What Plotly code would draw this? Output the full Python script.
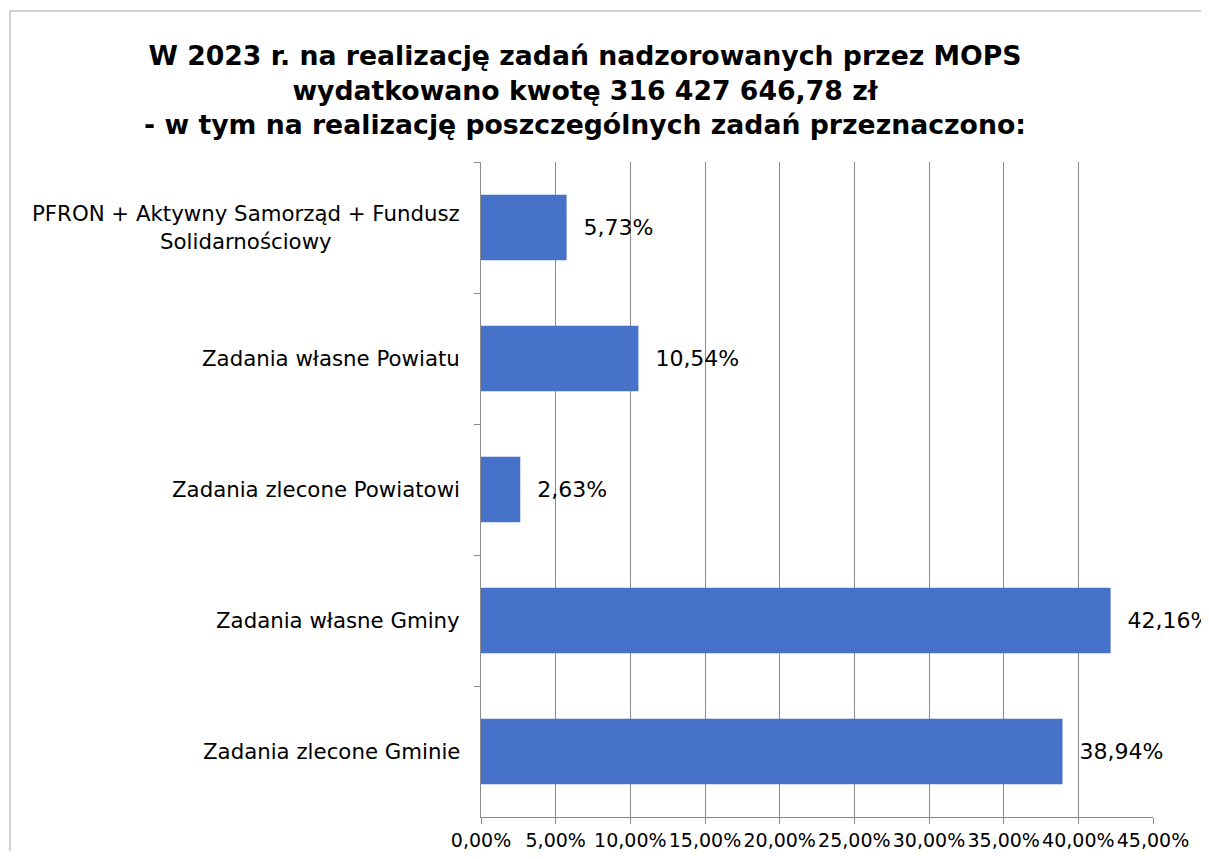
import plotly.graph_objects as go

categories = [
    "PFRON + Aktywny Samorząd + Fundusz<br>Solidarnościowy",
    "Zadania własne Powiatu",
    "Zadania zlecone Powiatowi",
    "Zadania własne Gminy",
    "Zadania zlecone Gminie",
]
values = [5.73, 10.54, 2.63, 42.16, 38.94]
x_ticks = [0, 5, 10, 15, 20, 25, 30, 35, 40, 45]
x_tick_labels = [f"{v:.2f}%".replace(".", ",") for v in x_ticks]
title_lines = [
    "W 2023 r. na realizację zadań nadzorowanych przez MOPS",
    "wydatkowano kwotę 316 427 646,78 zł",
    "- w tym na realizację poszczególnych zadań przeznaczono:",
]

FONT = "DejaVu Sans, Verdana, sans-serif"
# page body has an 8px margin; figure coordinates are shifted accordingly
W, H = 1200, 843
L, R, T, B = 473, 55, 154, 34

fig = go.Figure()
fig.add_trace(go.Bar(
    y=categories, x=values, orientation="h",
    marker=dict(color="#4673C9", line=dict(width=0)),
    texttemplate="\u00a0\u00a0%{x:.2f}%", textposition="outside",
    textfont=dict(family=FONT, size=22, color="#000000"),
    cliponaxis=False, width=0.5,
))

# category labels as centered multi-line annotations
for c in categories:
    fig.add_annotation(
        x=0, xref="paper", y=c, yref="y", xanchor="right", yanchor="middle",
        xshift=-19, text=c, showarrow=False, align="center",
        font=dict(family=FONT, size=21.3, color="#000000"),
    )

fig.update_layout(
    width=W, height=H,
    margin=dict(l=L, r=R, t=T, b=B, pad=0, autoexpand=False),
    paper_bgcolor="white", plot_bgcolor="white",
    separators=", ",
    showlegend=False,
    title=dict(
        text="<br>".join(title_lines),
        x=577 / W, xanchor="center", y=1 - 57 / H, yanchor="middle",
        font=dict(family=FONT, size=26.7, color="#000000", weight="bold"),
    ),
)
fig.update_xaxes(
    range=[0, 45], tickvals=x_ticks, ticktext=x_tick_labels,
    showgrid=True, gridcolor="#8c8c8c", gridwidth=1,
    showline=True, linecolor="#8c8c8c", linewidth=1,
    ticks="outside", ticklen=6, tickcolor="#8c8c8c",
    tickfont=dict(family=FONT, size=19, color="#000000"),
    automargin=False,
    zeroline=False,
)
fig.update_yaxes(
    type="category", autorange="reversed", automargin=False,
    showticklabels=False, showgrid=False,
    showline=True, linecolor="#8c8c8c", linewidth=1,
    ticks="outside", ticklen=6, tickcolor="#8c8c8c", tickson="boundaries",
)

# outer chart frame
pw, ph = W - L - R, H - T - B
fig.add_shape(
    type="rect", xref="paper", yref="paper",
    x0=(2 - L) / pw, x1=(W + 20 - L) / pw,
    y0=(H - B - (H + 20)) / ph, y1=(H - B - 3) / ph,
    line=dict(color="#a6a6a6", width=1), fillcolor="rgba(0,0,0,0)", layer="below",
)

fig.write_html("out.html")
